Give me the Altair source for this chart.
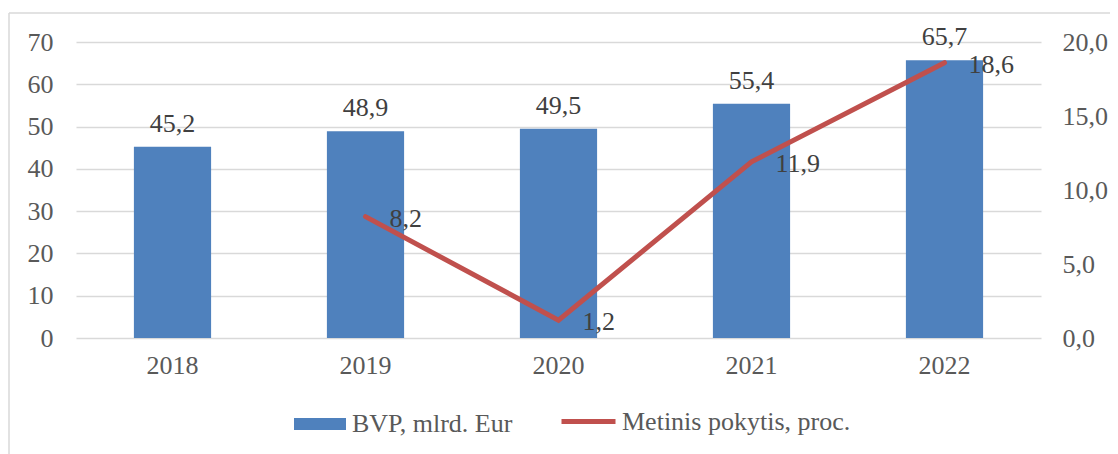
import altair as alt
import pandas as pd

years = ["2018", "2019", "2020", "2021", "2022"]
gdp = [45.2, 48.9, 49.5, 55.4, 65.7]
change_years = ["2019", "2020", "2021", "2022"]
change = [8.2, 1.2, 11.9, 18.6]
left_ticks = [0, 10, 20, 30, 40, 50, 60, 70]
right_ticks = [0, 5, 10, 15, 20]
bar_name = "BVP, mlrd. Eur"
line_name = "Metinis pokytis, proc."

FONT = "Liberation Serif"
BLUE = "#4F81BD"
RED = "#C0504D"
GRID = "#D9D9D9"
AXIS_TXT = "#595959"
LBL_TXT = "#404040"

bars_df = pd.DataFrame({
    "year": years,
    "value": gdp,
    "label": [f"{v:.1f}".replace(".", ",") for v in gdp],
    "series": [bar_name] * len(years),
})
line_df = pd.DataFrame({
    "year": change_years,
    "value": change,
    "label": [f"{v:.1f}".replace(".", ",") for v in change],
    "series": [line_name] * len(change_years),
})
frame_df = pd.DataFrame({"k": [0]})

x_scale = alt.Scale(domain=years, paddingInner=0.6, paddingOuter=0.3)
x_axis = alt.Axis(title=None, labelAngle=0, domain=False, ticks=False,
                  labelPadding=14, labelFontSize=26, labelFont=FONT,
                  labelColor=AXIS_TXT)
x_enc = alt.X("year:N", scale=x_scale, axis=x_axis)

yl_scale = alt.Scale(domain=[0, 70], nice=False)
yr_scale = alt.Scale(domain=[0, 20], nice=False)
yl_axis = alt.Axis(title=None, values=left_ticks, domain=False, ticks=False,
                   grid=True, gridColor=GRID, gridWidth=1.3,
                   labelPadding=23, labelFontSize=26, labelFont=FONT,
                   labelColor=AXIS_TXT)
yr_axis = alt.Axis(title=None, orient="right", values=right_ticks,
                   domain=False, ticks=False, grid=False,
                   labelExpr="replace(format(datum.value, '.1f'), '.', ',')",
                   labelPadding=21, labelFontSize=26, labelFont=FONT,
                   labelColor=AXIS_TXT, labelLimit=200)

bar = alt.Chart(bars_df).mark_bar(color=BLUE).encode(
    x=x_enc,
    y=alt.Y("value:Q", scale=yl_scale, axis=yl_axis),
    fill=alt.Fill("series:N",
                  scale=alt.Scale(domain=[bar_name], range=[BLUE]),
                  legend=alt.Legend(title=None, orient="none", legendX=218, legendY=356,
                                    padding=0, symbolType="M-1,-0.23H1V0.23H-1Z",
                                    symbolSize=2704, symbolStrokeWidth=0,
                                    labelFont=FONT, labelFontSize=26, labelColor=AXIS_TXT,
                                    labelOffset=6, labelLimit=500)),
)
bar_text = alt.Chart(bars_df).mark_text(
    font=FONT, fontSize=26, color=LBL_TXT, baseline="alphabetic", dy=-15
).encode(
    x=x_enc,
    y=alt.Y("value:Q", scale=yl_scale, axis=yl_axis),
    text="label:N",
)

line = alt.Chart(line_df).mark_line(strokeWidth=5, strokeCap="round",
                                    strokeJoin="miter").encode(
    x=x_enc,
    y=alt.Y("value:Q", scale=yr_scale, axis=yr_axis),
    stroke=alt.Stroke("series:N",
                      scale=alt.Scale(domain=[line_name], range=[RED]),
                      legend=alt.Legend(title=None, orient="none", legendX=483, legendY=350,
                                        padding=0, symbolType="stroke",
                                        symbolSize=2916, symbolStrokeWidth=5,
                                        labelFont=FONT, labelFontSize=26,
                                        labelColor=AXIS_TXT, labelOffset=4,
                                        labelLimit=500)),
)
line_text = alt.Chart(line_df).mark_text(
    font=FONT, fontSize=26, color=LBL_TXT, align="left", baseline="middle", dx=24, dy=2
).encode(
    x=x_enc,
    y=alt.Y("value:Q", scale=yr_scale, axis=yr_axis),
    text="label:N",
)

frame_top = alt.Chart(frame_df).mark_rule(color=GRID, strokeWidth=1.5).encode(
    x=alt.value(-67), x2=alt.value(1040), y=alt.value(-29)
)
frame_left = alt.Chart(frame_df).mark_rule(color=GRID, strokeWidth=1.5).encode(
    x=alt.value(-67), y=alt.value(-29), y2=alt.value(430)
)

left = alt.layer(bar, bar_text)
right = alt.layer(line, line_text)

chart = alt.layer(frame_top, frame_left, left, right).resolve_scale(
    y="independent", fill="independent", stroke="independent"
).properties(
    width=965, height=296,
    autosize=alt.AutoSizeParams(type="none"),
    padding={"left": 68, "top": 34, "right": 69, "bottom": 120},
    background="white",
).configure_view(strokeWidth=0)

chart.save("out.html", embed_options={"renderer": "svg", "actions": False})
